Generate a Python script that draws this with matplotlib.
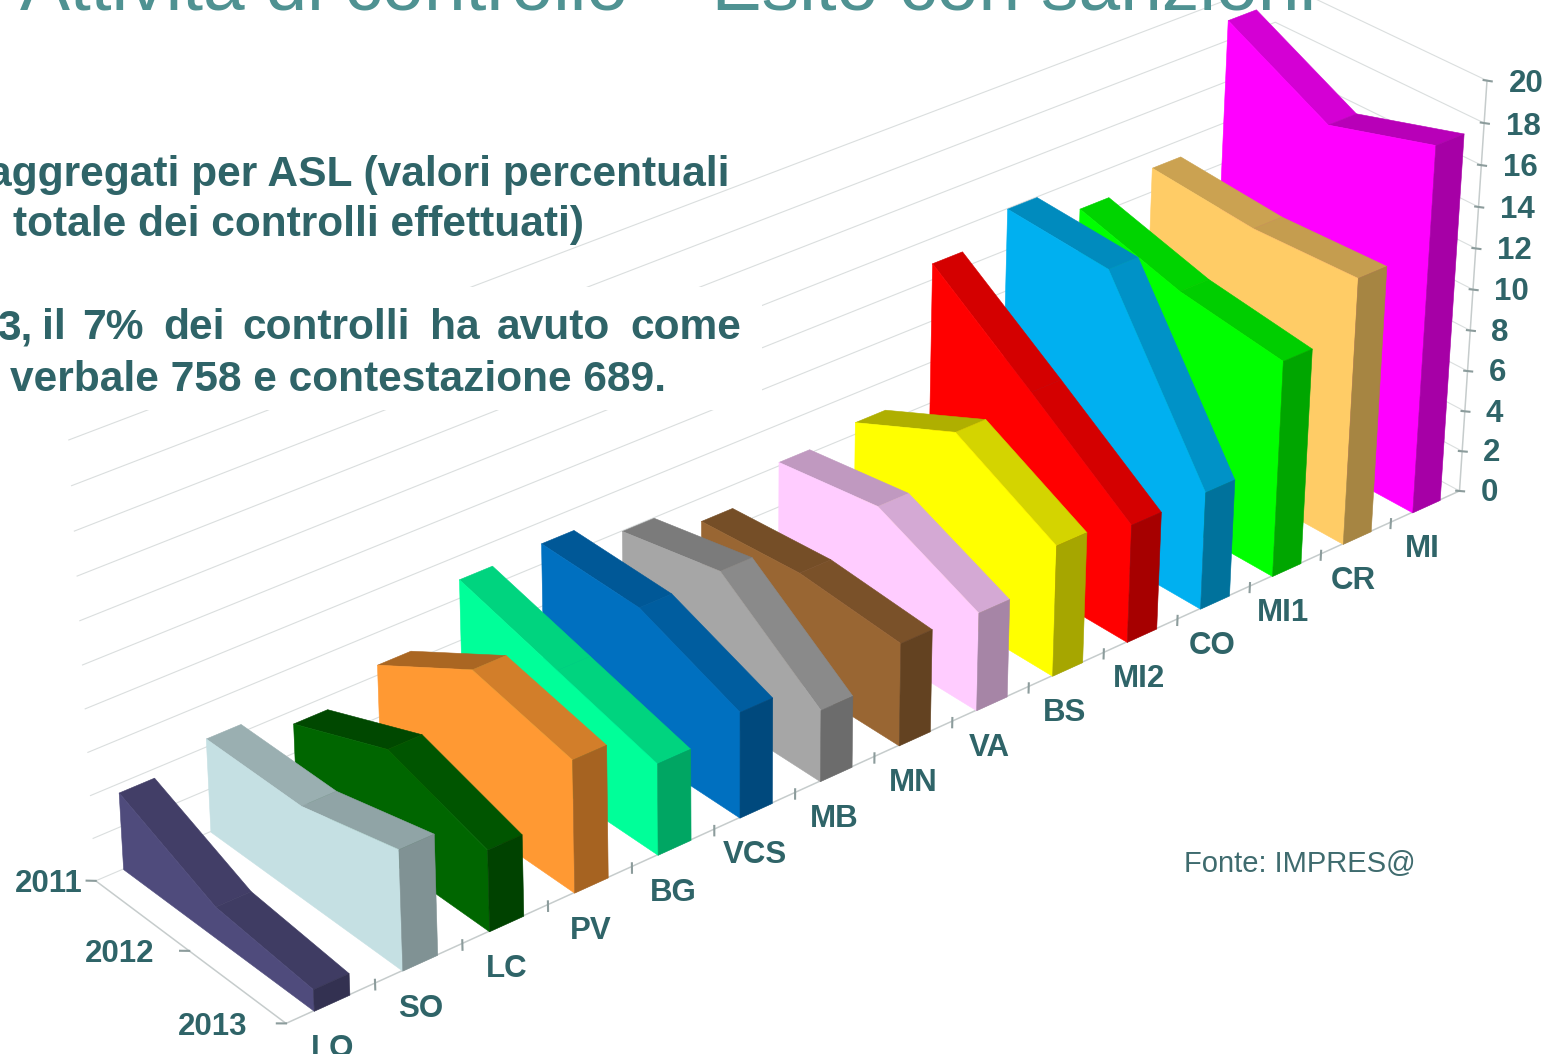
"""
Attivita di controllo - esito con sanzioni: aree 3D per ASL, 2011-2013
1544x1054 PNG
"""
import numpy as np
import matplotlib
matplotlib.use('Agg')
import matplotlib.pyplot as plt
from matplotlib.colors import to_rgb
from matplotlib.patches import Rectangle
from mpl_toolkits.mplot3d import proj3d
from mpl_toolkits.mplot3d.art3d import Poly3DCollection

plt.rcParams['font.family'] = ['Liberation Sans', 'DejaVu Sans']

W, H = 1544, 1054

# ─── data ────────────────────────────────────────────────
asl = ['LO', 'SO', 'LC', 'PV', 'BG', 'VCS', 'MB', 'MN', 'VA', 'BS', 'MI2', 'CO', 'MI1', 'CR', 'MI']
years = ['2011', '2012', '2013']
v2011 = [3.6, 4.4, 3.4, 4.5, 6.9, 7.0, 6.0, 4.9, 6.2, 6.6, 12.8, 14.0, 12.6, 13.2, 19.0]
v2012 = [1.5, 4.4, 5.3, 7.3, 5.6, 6.9, 7.0, 5.3, 6.9, 8.9, 9.3, 13.7, 11.2, 12.8, 16.4]
v2013 = [1.0, 5.6, 3.8, 6.2, 4.3, 5.0, 3.4, 4.9, 4.7, 6.3, 5.7, 5.7, 10.5, 13.0, 17.9]
value_ticks = list(range(0, 21, 2))
colors = ['#4F4B7C', '#C5E0E3', '#006600', '#FF9933', '#00FF99', '#0070C0', '#A6A6A6', '#996633',
          '#FFCCFF', '#FFFF00', '#FF0000', '#00B0F0', '#00FF00', '#FFCC66', '#FF00FF']

# ─── style ───────────────────────────────────────────────
TEAL = '#2F6468'
GRID = '#DADEDE'
AXIS = '#C6CCCC'
TICK = '#8C9C9C'
LABEL = 22.5
BODY = 30.6
XL, XR = 0.31, 0.71     # ribbon inside its category
SIDE = 3000             # square 3d axes, larger than the canvas, so nothing is clipped
year_pad = [0.15, 0.38, 0.42]


def shade(col, f):
    return tuple(c * f for c in to_rgb(col))


fig = plt.figure(figsize=(W / 100, H / 100), dpi=100, facecolor='white')
ax = fig.add_axes([(734.15 - SIDE / 2) / W, (H - 506.72 - SIDE / 2) / H, SIDE / W, SIDE / H],
                  projection='3d')
ax.set_axis_off()
ax.computed_zorder = False
ax.patch.set_alpha(0)

# camera
ax.view_init(29.8359, -130.0969, -0.2171)
ax.set_proj_type('persp', focal_length=0.38396)
ax.set_box_aspect((1, 0.20039, 0.31534), zoom=0.54025)
ax.set_autoscale_on(False)
ax.set_xlim(-0.5049, 14.4951)
ax.set_ylim(0, 2)
ax.set_zlim(0.834, 20.834)
ax.set_xticks([])
ax.set_yticks([])
ax.set_zticks([])


def label3d(x, y, z, s, **kw):
    # plain 2d text at the projected point of the 3d position
    px, py, _ = proj3d.proj_transform(x, y, z, ax.get_proj())
    ax.text2D(px, py, s, transform=ax.transData, fontsize=LABEL, fontweight='bold',
              color=TEAL, va='center', zorder=200, **kw)


# walls
for z in value_ticks:
    ax.plot([0, 15, 15], [2, 2, 0], [z, z, z], color=GRID, lw=0.8, zorder=1)
ax.plot([0, 0, 15], [2, 0, 0], [0, 0, 0], color=AXIS, lw=1.1, zorder=2)
ax.plot([15, 15], [0, 0], [0, 20], color=AXIS, lw=1.1, zorder=2)

# ticks
for z in value_ticks:
    ax.plot([14.95, 15.07], [0, 0], [z + 0.09, z - 0.13], color=TICK, lw=1.5, zorder=3)
    label3d(15.32, 0, z - 0.6, str(z), ha='left')
for x in range(1, 15):
    ax.plot([x, x], [0, 0], [-0.3, 0.15], color=TICK, lw=1.5, zorder=3)
for i, name in enumerate(asl):
    label3d(i + 0.5, 0, -2.15, name, ha='center')
for k, name in enumerate(years):
    y = 2 - k
    ax.plot([-0.1, 0], [y, y], [0.19, 0], color=TICK, lw=1.5, zorder=3)
    label3d(-year_pad[k], y, 1.9 * year_pad[k] - 0.15, name, ha='right')

# ribbons, far to near
for i in range(len(asl) - 1, -1, -1):
    v = [v2011[i], v2012[i], v2013[i]]
    xl, xr = i + XL, i + XR
    zo = 10 + (14 - i) * 4
    for k in range(2):
        drop = v[k] - v[k + 1]
        f = float(np.clip(0.78 + 0.04 * drop, 0.66, 0.83))
        c = shade(colors[i], f)
        quad = [(xl, 2 - k, v[k]), (xr, 2 - k, v[k]), (xr, 1 - k, v[k + 1]), (xl, 1 - k, v[k + 1])]
        ax.add_collection3d(Poly3DCollection([quad], facecolor=c, edgecolor=c, linewidth=0.4, zorder=zo + k),
                            autolim=False)
    side = [(xl, 2, 0), (xl, 2, v[0]), (xl, 1, v[1]), (xl, 0, v[2]), (xl, 0, 0)]
    ax.add_collection3d(Poly3DCollection([side], facecolor=colors[i], edgecolor=colors[i],
                                         linewidth=0.4, zorder=zo + 2), autolim=False)
    c = shade(colors[i], 0.65)
    end = [(xl, 0, 0), (xr, 0, 0), (xr, 0, v[2]), (xl, 0, v[2])]
    ax.add_collection3d(Poly3DCollection([end], facecolor=c, edgecolor=c, linewidth=0.4, zorder=zo + 3),
                        autolim=False)

# text box of the slide hides the wall lines
fig.add_artist(Rectangle((0, 1 - 410 / H), 762 / W, 123 / H, transform=fig.transFigure,
                         facecolor='white', edgecolor='none', zorder=2))


def slide_text(x, y, s, **kw):
    fig.text(x / W, 1 - y / H, s, va='baseline', zorder=3, **kw)


slide_text(20, 10, 'Attività di controllo – Esito con sanzioni', fontsize=54, color='#4F9292')
slide_text(730, 186, 'aggregati per ASL (valori percentuali', fontsize=BODY, fontweight='bold',
           color=TEAL, ha='right')
slide_text(13, 236, 'totale dei controlli effettuati)', fontsize=BODY, fontweight='bold', color=TEAL)
slide_text(10, 391, 'verbale 758 e contestazione 689.', fontsize=BODY, fontweight='bold', color=TEAL)
# justified line
words = ['3,', 'il', '7%', 'dei', 'controlli', 'ha', 'avuto', 'come']
word_x = [-3, 42, 82, 163, 242, 430, 497, 630]
for s, x in zip(words, word_x):
    slide_text(x, 339, s, fontsize=BODY, fontweight='bold', color=TEAL)
slide_text(1184, 872, 'Fonte: IMPRES@', fontsize=21, color='#3F6B6E')

fig.savefig('out.png', dpi=100, facecolor='white')
